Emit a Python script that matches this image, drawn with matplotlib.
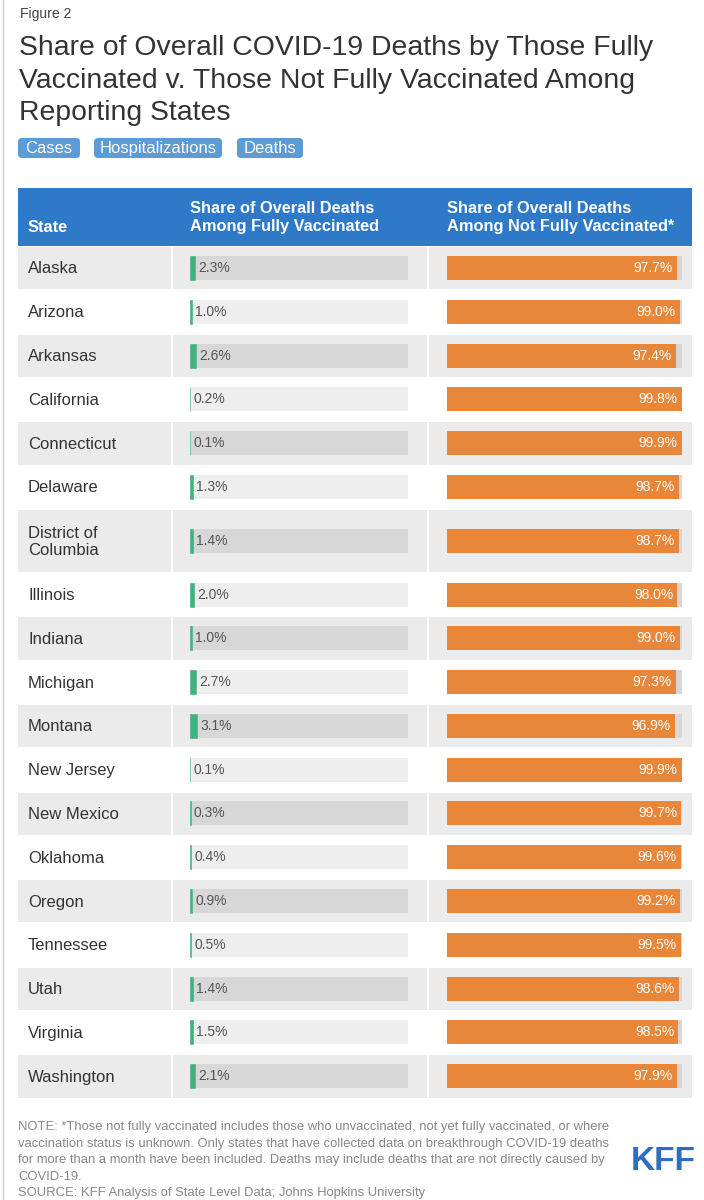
import matplotlib
matplotlib.use("Agg")
import matplotlib.pyplot as plt
from matplotlib.patches import Rectangle, FancyBboxPatch

# ---------------- data ----------------
states = ["Alaska", "Arizona", "Arkansas", "California", "Connecticut", "Delaware",
          "District of\nColumbia", "Illinois", "Indiana", "Michigan", "Montana",
          "New Jersey", "New Mexico", "Oklahoma", "Oregon", "Tennessee", "Utah",
          "Virginia", "Washington"]
fully_vax = [2.3, 1.0, 2.6, 0.2, 0.1, 1.3, 1.4, 2.0, 1.0, 2.7, 3.1, 0.1, 0.3, 0.4,
             0.9, 0.5, 1.4, 1.5, 2.1]
not_fully_vax = [97.7, 99.0, 97.4, 99.8, 99.9, 98.7, 98.7, 98.0, 99.0, 97.3, 96.9,
                 99.9, 99.7, 99.6, 99.2, 99.5, 98.6, 98.5, 97.9]
col_headers = ["State",
               "Share of Overall Deaths\nAmong Fully Vaccinated",
               "Share of Overall Deaths\nAmong Not Fully Vaccinated*"]
buttons = ["Cases", "Hospitalizations", "Deaths"]
fig_label = "Figure 2"
title = ("Share of Overall COVID-19 Deaths by Those Fully\n"
         "Vaccinated v. Those Not Fully Vaccinated Among\n"
         "Reporting States")
note = ("NOTE: *Those not fully vaccinated includes those who unvaccinated, not yet fully vaccinated, or where\n"
        "vaccination status is unknown. Only states that have collected data on breakthrough COVID-19 deaths\n"
        "for more than a month have been included. Deaths may include deaths that are not directly caused by\n"
        "COVID-19.\n"
        "SOURCE: KFF Analysis of State Level Data; Johns Hopkins University")

# ---------------- style ----------------
FONT = "Liberation Sans"
plt.rcParams["font.family"] = [FONT, "DejaVu Sans"]
W, H = 704, 1200
BLUE_HDR = "#2e79c8"
BTN = "#5b9bd8"
GREEN = "#3db380"
ORANGE = "#e8863a"
ROW_GRAY = "#ebebeb"
TRACK_DARK = "#d7d7d7"
TRACK_LIGHT = "#eeeeee"
TXT = "#333333"

fig = plt.figure(figsize=(W / 100, H / 100), dpi=100)
fig.patch.set_facecolor("white")
bg = fig.add_axes([0, 0, 1, 1])
bg.set_xlim(0, W)
bg.set_ylim(H, 0)
bg.axis("off")


def px_axes(x0, y0, x1, y1):
    a = fig.add_axes([x0 / W, 1 - y1 / H, (x1 - x0) / W, (y1 - y0) / H])
    a.axis("off")
    return a


# screenshot border
bg.plot([3, 3], [0, H], color="#cccccc", lw=1)

# title block
bg.text(20, 14, fig_label, fontsize=10, color="#444444", va="center", ha="left")
bg.text(19, 80.5, title, fontsize=20.4, color=TXT, va="center", ha="left", linespacing=1.32)

# buttons
bx = [18, 94, 237]
bw = [62, 128, 66]
for x, w, lab in zip(bx, bw, buttons):
    bg.add_patch(FancyBboxPatch((x, 138), w, 20, boxstyle="round,pad=0,rounding_size=4",
                                fc=BTN, ec="none"))
    bg.text(x + w / 2, 148.5, lab, fontsize=12, color="white", ha="center", va="center")

# header
T_LEFT, T_RIGHT = 18, 692
HDR_TOP, HDR_BOT = 188, 246
bg.add_patch(Rectangle((T_LEFT, HDR_TOP), T_RIGHT - T_LEFT, HDR_BOT - HDR_TOP,
                       fc=BLUE_HDR, ec="none"))
hx = [28, 190, 447]
for x, lab in zip(hx, col_headers):
    y = 227 if "\n" not in lab else 217.5
    bg.text(x, y, lab, fontsize=11.8, fontweight="bold", color="white",
            ha="left", va="center", linespacing=1.3)

# row geometry
pitch, tall = 43.8, 63.8
heights = [tall if "\n" in s else pitch for s in states]
tops = []
y = HDR_BOT
for h in heights:
    tops.append(y)
    y += h
TABLE_BOT = y
centers = [t + h / 2 for t, h in zip(tops, heights)]

col_edges = [(T_LEFT, 171), (173, 427), (429, T_RIGHT)]
for i, (t, h) in enumerate(zip(tops, heights)):
    if i % 2 == 0:
        for x0, x1 in col_edges:
            bg.add_patch(Rectangle((x0, t + 1), x1 - x0, h - 1.5, fc=ROW_GRAY, ec="none"))
    bg.text(28, centers[i] + 1, states[i], fontsize=12, color=TXT, ha="left",
            va="center", linespacing=1.2)

track_cols = [TRACK_DARK if i % 2 == 0 else TRACK_LIGHT for i in range(len(states))]
bar_h = 24

# column 2: fully vaccinated
ax_g = px_axes(190, HDR_BOT, 408, TABLE_BOT)
ax_g.set_xlim(0, 100)
ax_g.set_ylim(TABLE_BOT, HDR_BOT)
ax_g.barh(centers, [100] * len(states), height=bar_h, color=track_cols, lw=0)
ax_g.barh(centers, fully_vax, height=bar_h, color=GREEN, edgecolor=GREEN, lw=0.4)
for c, v in zip(centers, fully_vax):
    ax_g.annotate(f"{v:.1f}%", (v, c), xytext=(2.3, 0), textcoords="offset points",
                  fontsize=10, color="#555555", ha="left", va="center")

# column 3: not fully vaccinated
ax_o = px_axes(447, HDR_BOT, 682, TABLE_BOT)
ax_o.set_xlim(0, 100)
ax_o.set_ylim(TABLE_BOT, HDR_BOT)
ax_o.barh(centers, [100] * len(states), height=bar_h, color=TRACK_DARK, lw=0)
ax_o.barh(centers, not_fully_vax, height=bar_h, color=ORANGE, lw=0)
for c, v in zip(centers, not_fully_vax):
    ax_o.annotate(f"{v:.1f}%", (v, c), xytext=(-3, 0), textcoords="offset points",
                  fontsize=10, color="white", ha="right", va="center")

# note + logo
bg.text(18, 1121, note, fontsize=9.35, color="#888888", ha="left", va="top", linespacing=1.5)
bg.text(663, 1162, "KFF", fontsize=24, fontweight="bold", color="#2c6fc2",
        ha="center", va="center")

fig.savefig("out.png", dpi=100, facecolor="white")
